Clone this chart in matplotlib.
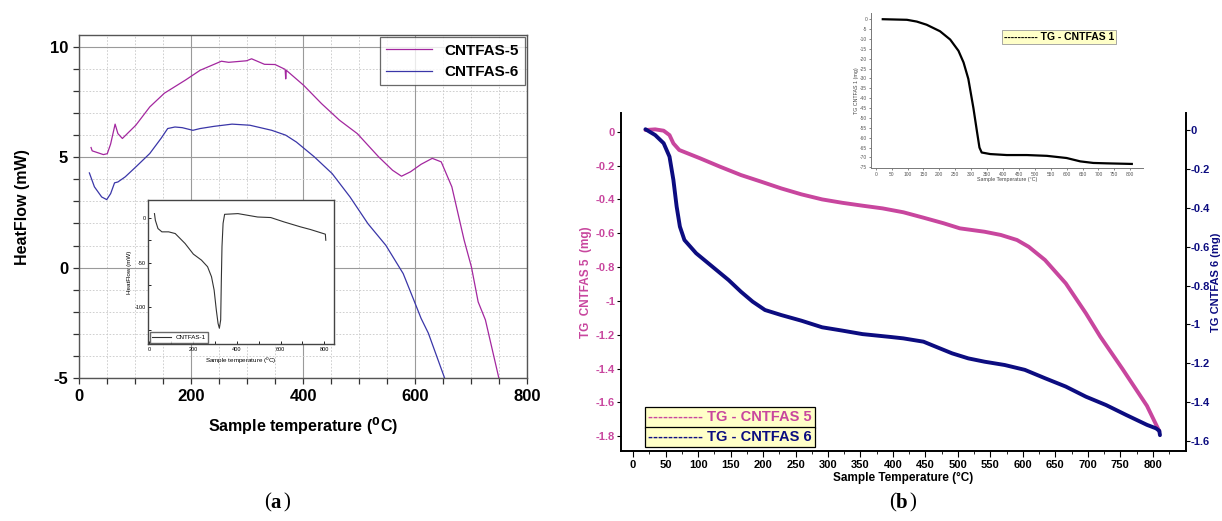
import matplotlib
matplotlib.use('Agg')
import matplotlib.pyplot as plt
from matplotlib.ticker import MultipleLocator, FixedLocator, FuncFormatter

plt.rcParams['font.family'] = ['Liberation Sans', 'DejaVu Sans']
plt.rcParams['axes.unicode_minus'] = False

# --- (a) DSC heat flow ---
t5 = [21, 23, 43, 50, 56, 64, 69, 77, 101, 126, 152, 190, 216, 254, 267, 299, 308,
      331, 350, 368, 369, 370, 401, 433, 465, 497, 535, 560, 576, 592, 611, 631,
      647, 666, 688, 701, 713, 726, 750]
hf5 = [5.44, 5.29, 5.12, 5.16, 5.6, 6.5, 6.07, 5.85, 6.45, 7.28, 7.9, 8.5, 8.94,
       9.35, 9.3, 9.37, 9.46, 9.21, 9.2, 8.98, 8.55, 8.94, 8.26, 7.43, 6.68, 6.07,
       5.02, 4.41, 4.14, 4.34, 4.68, 4.95, 4.79, 3.66, 1.24, 0.03, -1.55, -2.37, -5.0]

t6 = [18, 27, 40, 49, 56, 63, 69, 82, 101, 126, 146, 158, 171, 184, 203, 216, 241,
      273, 305, 344, 369, 388, 420, 452, 484, 516, 548, 579, 598, 611, 624, 653]
hf6 = [4.29, 3.66, 3.2, 3.08, 3.35, 3.84, 3.88, 4.11, 4.56, 5.17, 5.85, 6.3, 6.37,
       6.34, 6.22, 6.3, 6.4, 6.5, 6.45, 6.22, 6.0, 5.69, 5.02, 4.26, 3.2, 1.99,
       1.01, -0.27, -1.47, -2.3, -2.97, -5.0]

t1 = [23, 27, 39, 57, 88, 118, 163, 201, 238, 266, 284, 296, 306, 314, 320, 326,
      329, 332, 337, 344, 405, 495, 555, 616, 691, 737, 805, 807]
hf1 = [4.8, -2.6, -11.9, -15.6, -15.6, -17.5, -28.6, -40.5, -47.2, -54.6, -65.8,
       -80.7, -103, -118, -123.4, -114, -69.5, -32, -6, 4, 4.8, 1, 0.4, -4.5, -10,
       -13, -18.2, -25]

# --- (b) TG mass loss ---
tg5_t = [19, 34, 47, 56, 62, 71, 103, 134, 166, 197, 228, 259, 291, 322, 353, 384,
         416, 447, 478, 503, 541, 566, 591, 609, 634, 666, 697, 719, 753, 791, 810]
tg5_m = [0.01, 0.014, 0.006, -0.02, -0.069, -0.108, -0.157, -0.207, -0.256, -0.295,
         -0.335, -0.37, -0.40, -0.42, -0.437, -0.453, -0.476, -0.508, -0.541, -0.571,
         -0.591, -0.61, -0.64, -0.68, -0.758, -0.896, -1.073, -1.21, -1.40, -1.62, -1.77]

tg6_t = [19, 34, 47, 56, 62, 67, 72, 79, 97, 122, 147, 166, 184, 203, 228, 259, 291,
         322, 353, 397, 416, 447, 466, 491, 516, 541, 572, 603, 634, 666, 697, 728,
         759, 791, 805, 810, 811]
tg6_m = [0.004, -0.026, -0.068, -0.137, -0.257, -0.394, -0.497, -0.566, -0.634,
         -0.703, -0.772, -0.832, -0.883, -0.926, -0.952, -0.981, -1.015, -1.032,
         -1.05, -1.065, -1.072, -1.089, -1.115, -1.149, -1.175, -1.192, -1.209,
         -1.234, -1.277, -1.32, -1.372, -1.415, -1.466, -1.517, -1.535, -1.548, -1.57]

tg1_t = [22, 98, 129, 160, 202, 234, 260, 276, 291, 307, 318, 326, 333, 360, 412,
         475, 538, 600, 643, 684, 726, 805]
tg1_m = [0, -0.3, -1.2, -2.8, -6.1, -10.3, -16, -21.9, -30.2, -45, -56.7, -65,
         -67.5, -68.3, -68.8, -68.8, -69.2, -70.3, -72, -72.8, -73, -73.3]

xticks_b = list(range(0, 801, 50))

c5a, c6a = '#A3279F', '#3A36A8'
c5b, c6b = '#C8469E', '#0C0C80'

fig = plt.figure(figsize=(12.22, 5.21), dpi=100)

# ---------------- panel (a) ----------------
ax = fig.add_axes([0.0649, 0.2745, 0.3662, 0.658])
ax.plot(t5, hf5, color=c5a, lw=0.9, label='CNTFAS-5')
ax.plot(t6, hf6, color=c6a, lw=0.9, label='CNTFAS-6')
ax.set_xlim(0, 800)
ax.set_ylim(-5, 10.53)
ax.xaxis.set_major_locator(MultipleLocator(200))
ax.xaxis.set_minor_locator(MultipleLocator(50))
ax.yaxis.set_major_locator(MultipleLocator(5))
ax.yaxis.set_minor_locator(MultipleLocator(1))
ax.grid(True, which='major', color='#9a9a9a', lw=0.8)
ax.grid(True, which='minor', color='#c8c8c8', lw=0.6, ls=(0, (2, 2)))
ax.tick_params(which='both', direction='out', length=4, width=0.9, color='#333333')
ax.tick_params(which='major', labelsize=12, pad=4)
for lab in ax.get_xticklabels() + ax.get_yticklabels():
    lab.set_fontweight('bold')
for s in ax.spines.values():
    s.set_color('#555555')
    s.set_linewidth(1.0)
ax.set_xlabel('Sample temperature ($\\mathbf{^{0}}$C)', fontsize=11.5, fontweight='bold', labelpad=8)
ax.set_ylabel('HeatFlow (mW)', fontsize=11.5, fontweight='bold', labelpad=14)
leg = ax.legend(loc='upper right', frameon=True, fancybox=False,
                borderaxespad=0.15, handlelength=3.0, prop={'weight': 'bold', 'size': 11})
leg.get_frame().set_edgecolor('#444444')
leg.get_frame().set_linewidth(0.9)

# inset (a)
axi = fig.add_axes([0.1214, 0.3397, 0.152, 0.2764])
axi.set_facecolor('white')
axi.plot(t1, hf1, color='#333333', lw=0.8, label='CNTFAS-1')
axi.set_xlim(-5, 845)
axi.set_ylim(-141, 20)
axi.xaxis.set_major_locator(MultipleLocator(200))
axi.xaxis.set_minor_locator(MultipleLocator(100))
axi.yaxis.set_major_locator(MultipleLocator(50))
axi.yaxis.set_minor_locator(MultipleLocator(25))
axi.tick_params(which='both', direction='in', length=2, width=0.6, labelsize=4, pad=2)
for s in axi.spines.values():
    s.set_color('#444444')
    s.set_linewidth(1.0)
axi.set_xlabel('Sample temperature ($^{0}$C)', fontsize=4.5, labelpad=3)
axi.set_ylabel('HeatFlow (mW)', fontsize=4.5, labelpad=2)
li = axi.legend(loc='lower left', fontsize=4.5, frameon=True, fancybox=False,
                borderaxespad=0.2, handlelength=3)
li.get_frame().set_edgecolor('#444444')

fig.text(0.2215, 0.025, '(', fontsize=15, family='Liberation Serif', ha='right')
fig.text(0.2215, 0.025, 'a', fontsize=15, family='Liberation Serif', fontweight='bold', ha='left')
fig.text(0.232, 0.025, ')', fontsize=15, family='Liberation Serif', ha='left')

# ---------------- panel (b) ----------------
bx = fig.add_axes([0.508, 0.1349, 0.4625, 0.648])
bx.plot(tg5_t, tg5_m, color=c5b, lw=2.8, solid_capstyle='round')
bx.set_xlim(-19, 851)
bx.set_ylim(-1.885, 0.11)
bx.xaxis.set_major_locator(FixedLocator(xticks_b))
bx.xaxis.set_minor_locator(FixedLocator([v + 25 for v in xticks_b]))
bx.yaxis.set_major_locator(MultipleLocator(0.2))
fmt = FuncFormatter(lambda v, p: '%g' % round(v, 2))
bx.yaxis.set_major_formatter(fmt)
bx.spines['top'].set_visible(False)
bx.spines['right'].set_visible(False)
bx.spines['left'].set_linewidth(1.4)
bx.spines['bottom'].set_linewidth(1.4)
bx.tick_params(axis='x', which='major', length=4, labelsize=8, pad=3)
bx.tick_params(axis='x', which='minor', length=2)
bx.tick_params(axis='y', length=3, labelsize=8, labelcolor=c5b, pad=1)
for lab in bx.get_xticklabels() + bx.get_yticklabels():
    lab.set_fontweight('bold')
bx.set_xlabel('Sample Temperature (°C)', fontsize=8.5, fontweight='bold', labelpad=1)
bx.set_ylabel('TG  CNTFAS 5  (mg)', fontsize=8.5, fontweight='bold', color=c5b, labelpad=3)

bx2 = bx.twinx()
bx2.plot(tg6_t, tg6_m, color=c6b, lw=2.8, solid_capstyle='round')
bx2.set_ylim(-1.65, 0.087)
bx2.yaxis.set_major_locator(MultipleLocator(0.2))
bx2.yaxis.set_major_formatter(fmt)
for k in ['top', 'left', 'bottom']:
    bx2.spines[k].set_visible(False)
bx2.spines['right'].set_linewidth(1.4)
bx2.tick_params(axis='y', length=3, labelsize=8, labelcolor=c6b, pad=0.5)
for lab in bx2.get_yticklabels():
    lab.set_fontweight('bold')
bx2.set_ylabel('TG CNTFAS 6 (mg)', fontsize=8, fontweight='bold', color=c6b, labelpad=0.5)

box = dict(boxstyle='square,pad=0.22', fc='#FFFFC8', ec='black', lw=0.9)
fig.text(0.5305, 0.1987, '----------- TG - CNTFAS 5', fontsize=10.5, fontweight='bold',
         color=c5b, bbox=box, va='center')
fig.text(0.5305, 0.1612, '----------- TG - CNTFAS 6', fontsize=10.5, fontweight='bold',
         color=c6b, bbox=box, va='center')

# inset (b)
bi = fig.add_axes([0.7125, 0.677, 0.2228, 0.2975])
bi.set_facecolor('white')
bi.plot(tg1_t, tg1_m, color='black', lw=1.6)
bi.set_xlim(-16, 840)
bi.set_ylim(-75.5, 3)
bi.xaxis.set_major_locator(FixedLocator(xticks_b))
bi.yaxis.set_major_locator(MultipleLocator(5))
bi.yaxis.set_major_formatter(fmt)
bi.spines['top'].set_visible(False)
bi.spines['right'].set_visible(False)
for s in ['left', 'bottom']:
    bi.spines[s].set_color('#777777')
    bi.spines[s].set_linewidth(0.7)
bi.tick_params(length=1.5, width=0.5, labelsize=3.5, pad=1, colors='#555555')
bi.set_xlabel('Sample Temperature (°C)', fontsize=3.8, labelpad=0.5, color='#444444')
bi.set_ylabel('TG CNTFAS 1 (mg)', fontsize=3.8, labelpad=1, color='#444444')
bi.text(0.49, 0.845, '---------- TG - CNTFAS 1', transform=bi.transAxes, fontsize=7.5,
        fontweight='bold', color='black', va='center',
        bbox=dict(boxstyle='square,pad=0.2', fc='#FFFFC8', ec='#999999', lw=0.6))

fig.text(0.733, 0.025, '(', fontsize=15, family='Liberation Serif', ha='right')
fig.text(0.733, 0.025, 'b', fontsize=15, family='Liberation Serif', fontweight='bold', ha='left')
fig.text(0.744, 0.025, ')', fontsize=15, family='Liberation Serif', ha='left')

fig.savefig('out.png', dpi=100)
